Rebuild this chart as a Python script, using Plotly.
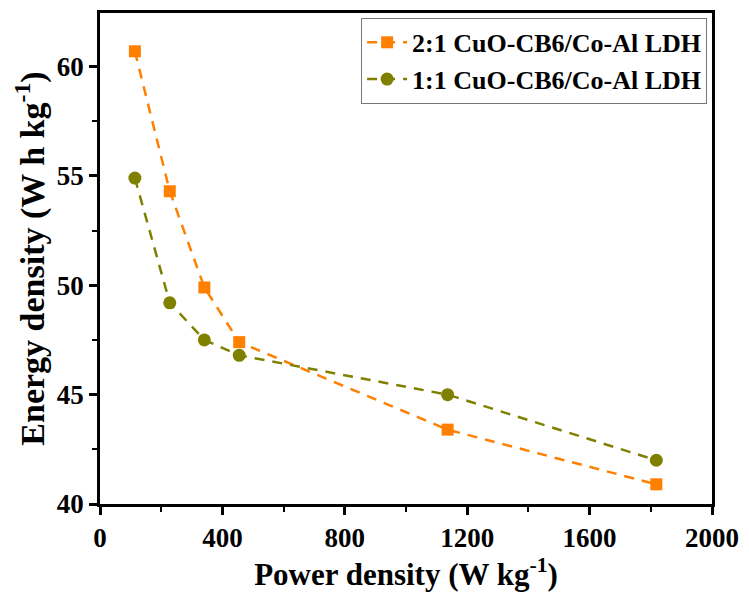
import plotly.graph_objects as go

power = [114, 228, 341, 455, 1136, 1818]
energy_21 = [60.7, 54.3, 49.9, 47.4, 43.4, 40.9]
energy_11 = [54.9, 49.2, 47.5, 46.8, 45.0, 42.0]
names = ["2:1 CuO-CB6/Co-Al LDH", "1:1 CuO-CB6/Co-Al LDH"]
x_ticks = [0, 400, 800, 1200, 1600, 2000]
y_ticks = [40, 45, 50, 55, 60]

FONT = "Liberation Serif, Times New Roman, serif"

fig = go.Figure()
fig.add_trace(go.Scatter(
    x=power, y=energy_21, mode="lines+markers", name=names[0],
    line=dict(color="#FF7F00", width=2.5, dash="10px,8px"),
    marker=dict(symbol="square", size=12, color="#FF7F00"),
))
fig.add_trace(go.Scatter(
    x=power, y=energy_11, mode="lines+markers", name=names[1],
    line=dict(color="#808000", width=2.5, dash="10px,8px"),
    marker=dict(symbol="circle", size=13, color="#808000"),
))

axis_common = dict(
    showline=True, linecolor="black", linewidth=2.5, mirror=True,
    ticks="outside", ticklen=8, tickwidth=2.5, tickcolor="black",
    showgrid=False, zeroline=False,
    tickfont=dict(family=FONT, size=27, color="black", weight="bold"),
)

fig.update_layout(
    width=749, height=600,
    margin=dict(l=100, r=33, t=10, b=96),
    plot_bgcolor="white", paper_bgcolor="white",
    font=dict(family=FONT, color="black"),
    xaxis=dict(
        range=[0, 2000], tickvals=x_ticks, **axis_common,
        minor=dict(ticks="outside", ticklen=5, tickwidth=2, tickcolor="black", dtick=200, showgrid=False),
        title=dict(text="Power density (W kg<sup>-1</sup>)", font=dict(family=FONT, size=31, weight="bold"), standoff=8),
    ),
    yaxis=dict(
        range=[40, 62.45], tickvals=y_ticks, **axis_common,
        minor=dict(ticks="outside", ticklen=5, tickwidth=2, tickcolor="black", dtick=2.5, showgrid=False),
        title=dict(text="Energy density (W h kg<sup>-1</sup>)", font=dict(family=FONT, size=34, weight="bold"), standoff=2),
    ),
    legend=dict(
        x=0.992, y=0.99, xanchor="right", yanchor="top",
        bgcolor="white", bordercolor="#777777", borderwidth=1,
        font=dict(family=FONT, size=26, color="black", weight="bold"),
        itemwidth=40, tracegroupgap=0,
    ),
)

fig.write_html("out.html")
